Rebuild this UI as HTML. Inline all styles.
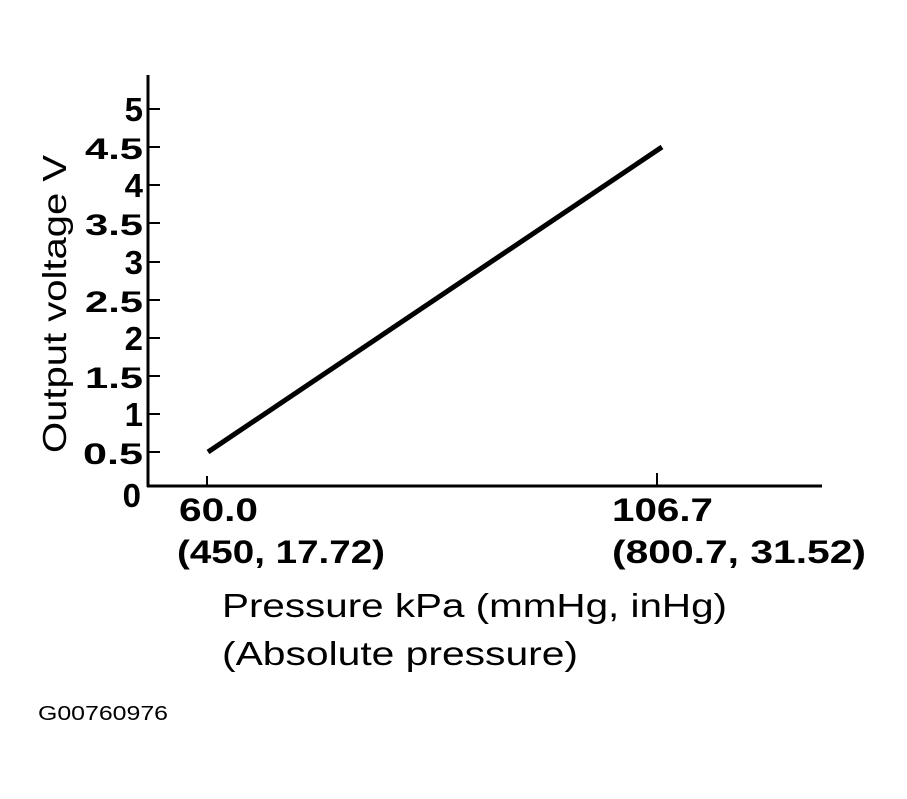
<!DOCTYPE html>
<html><head><style>body{margin:0;background:#fff}</style></head><body>
<svg width="907" height="794" xmlns="http://www.w3.org/2000/svg" font-family="Liberation Sans, sans-serif">
<rect width="907" height="794" fill="#fff"/>
<g stroke="#000" fill="none">
<line x1="148" y1="75" x2="148" y2="487" stroke-width="3"/>
<line x1="147" y1="486" x2="822" y2="486" stroke-width="3"/>
<g stroke-width="2">
<line x1="148" y1="109" x2="160" y2="109"/><line x1="148" y1="147" x2="160" y2="147"/>
<line x1="148" y1="185" x2="160" y2="185"/><line x1="148" y1="223" x2="160" y2="223"/>
<line x1="148" y1="262" x2="160" y2="262"/><line x1="148" y1="300" x2="160" y2="300"/>
<line x1="148" y1="338" x2="160" y2="338"/><line x1="148" y1="376" x2="160" y2="376"/>
<line x1="148" y1="414" x2="160" y2="414"/><line x1="148" y1="452" x2="160" y2="452"/>
<line x1="207" y1="476" x2="207" y2="486"/><line x1="657" y1="473" x2="657" y2="486"/>
</g>
<line x1="208" y1="452" x2="662" y2="147" stroke-width="5"/>
</g>
<g font-weight="bold" font-size="30" text-anchor="end">
<text x="143" y="121" font-size="33">5</text><text x="143" y="159" textLength="58" lengthAdjust="spacingAndGlyphs">4.5</text><text x="143" y="197" font-size="33">4</text>
<text x="143" y="235" textLength="58" lengthAdjust="spacingAndGlyphs">3.5</text><text x="143" y="274" font-size="33">3</text><text x="143" y="312" textLength="58" lengthAdjust="spacingAndGlyphs">2.5</text>
<text x="143" y="350" font-size="33">2</text><text x="143" y="388" textLength="58" lengthAdjust="spacingAndGlyphs">1.5</text><text x="143" y="426" font-size="33">1</text>
<text x="143" y="464" textLength="60" lengthAdjust="spacingAndGlyphs">0.5</text><text x="141" y="507" font-size="33">0</text>
</g>
<g font-weight="bold" font-size="32">
<text x="179" y="521" textLength="79" lengthAdjust="spacingAndGlyphs">60.0</text>
<text x="177" y="563" textLength="208" lengthAdjust="spacingAndGlyphs">(450, 17.72)</text>
<text x="612" y="521" textLength="101" lengthAdjust="spacingAndGlyphs">106.7</text>
<text x="612" y="563" textLength="254" lengthAdjust="spacingAndGlyphs">(800.7, 31.52)</text>
</g>
<g font-size="33">
<text x="222" y="617" textLength="505" lengthAdjust="spacingAndGlyphs">Pressure kPa (mmHg, inHg)</text>
<text x="222" y="665" textLength="356" lengthAdjust="spacingAndGlyphs">(Absolute pressure)</text>
<text transform="translate(66,453) rotate(-90)" textLength="298" lengthAdjust="spacingAndGlyphs">Output voltage V</text>
</g>
<text x="38" y="720" font-size="20" textLength="130" lengthAdjust="spacingAndGlyphs">G00760976</text>
</svg>
</body></html>
